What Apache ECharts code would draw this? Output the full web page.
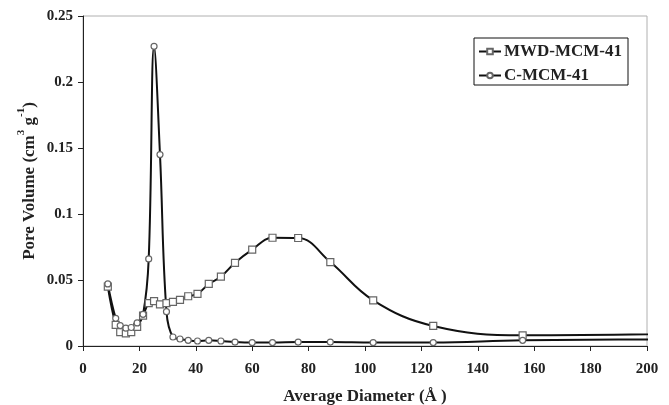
<!DOCTYPE html>
<html>
<head>
<meta charset="utf-8">
<script src="https://cdn.jsdelivr.net/npm/echarts@6/dist/echarts.min.js"></script>
<style>
html, body { margin: 0; padding: 0; background: #fff; }
#chart { width: 669px; height: 405px; }
</style>
</head>
<body>
<div id="chart"></div>
<script>
// pore diameter (Å), shared by both samples
var diameter = [8.8, 11.6, 13.2, 15.2, 17.1, 19.2, 21.3, 23.3, 25.2, 27.3, 29.6, 31.9, 34.4, 37.3, 40.6, 44.6, 48.9, 53.9, 60.0, 67.2, 76.3, 87.7, 102.9, 124.2, 155.9, 260];
var mwdVolume = [0.045, 0.016, 0.0105, 0.0095, 0.0105, 0.0145, 0.023, 0.0325, 0.034, 0.0315, 0.0325, 0.0335, 0.035, 0.0377, 0.0395, 0.047, 0.0525, 0.063, 0.073, 0.082, 0.0818, 0.0636, 0.0346, 0.0152, 0.0081, 0.0115];
var cVolume = [0.047, 0.021, 0.0155, 0.0135, 0.014, 0.0175, 0.024, 0.066, 0.227, 0.145, 0.026, 0.0068, 0.0053, 0.0043, 0.0038, 0.0043, 0.0038, 0.003, 0.0026, 0.0026, 0.003, 0.003, 0.0026, 0.0026, 0.0043, 0.0055];
var seriesNames = ['MWD-MCM-41', 'C-MCM-41'];

var serif = "'Liberation Serif', 'Times New Roman', serif";

function pairs(xs, ys) {
	var out = [];
	for (var i = 0; i < xs.length; i++) out.push([xs[i], ys[i]]);
	return out;
}

function makeSeries(name, ys, symbol, size) {
	return {
		name: name,
		type: 'line',
		data: pairs(diameter, ys),
		smooth: 0.4,
		symbol: symbol,
		symbolSize: size,
		showAllSymbol: true,
		clip: true,
		lineStyle: { color: '#111', width: 2 },
		itemStyle: { color: '#fff', borderColor: '#666', borderWidth: 1.2 },
		emphasis: { disabled: true }
	};
}

var chart = echarts.init(document.getElementById('chart'));
chart.setOption({
	animation: false,
	backgroundColor: '#fff',
	grid: {
		left: 83, right: 22, top: 16, bottom: 59,
		containLabel: false,
		outerBoundsMode: 'none',
		show: true, borderColor: '#b0b0b0', borderWidth: 1
	},
	legend: {
		data: [
			{ name: seriesNames[0] },
			{ name: seriesNames[1] }
		],
		orient: 'vertical',
		left: 474,
		top: 38,
		padding: [5, 6, 1, 4],
		itemWidth: 22,
		itemHeight: 7,
		itemGap: 7,
		borderColor: '#111',
		borderWidth: 1,
		backgroundColor: '#fff',
		textStyle: { fontFamily: serif, fontWeight: 'bold', fontSize: 17, color: '#222', padding: [0, 0, 0, -2] }
	},
	xAxis: {
		type: 'value',
		min: 0,
		max: 200,
		interval: 20,
		name: 'Average Diameter (Å )',
		nameLocation: 'middle',
		nameGap: 42,
		nameTextStyle: { fontFamily: serif, fontWeight: 'bold', fontSize: 17, color: '#222' },
		axisLine: { lineStyle: { color: '#222', width: 1 } },
		axisTick: { show: true, length: 5, lineStyle: { color: '#222' } },
		axisLabel: { margin: 16, fontFamily: serif, fontWeight: 'bold', fontSize: 15, color: '#222' },
		splitLine: { show: false }
	},
	yAxis: {
		type: 'value',
		min: 0,
		max: 0.25,
		interval: 0.05,
		name: '{n|Pore Volume (cm}{s|3}{n| g}{s|-1}{n|)}',
		nameLocation: 'middle',
		nameRotate: 90,
		nameGap: 45,
		nameMoveOverlap: false,
		nameTextStyle: {
			fontFamily: serif, fontWeight: 'bold', fontSize: 17, color: '#222',
			rich: {
				n: { fontFamily: serif, fontWeight: 'bold', fontSize: 17, color: '#222', lineHeight: 22, verticalAlign: 'bottom' },
				s: { fontFamily: serif, fontWeight: 'bold', fontSize: 11, color: '#222', lineHeight: 22, verticalAlign: 'top', padding: [0, 0, 8, 0] }
			}
		},
		axisLine: { show: true, lineStyle: { color: '#222', width: 1 } },
		axisTick: { show: true, length: 5, lineStyle: { color: '#222' } },
		axisLabel: { margin: 10, fontFamily: serif, fontWeight: 'bold', fontSize: 15, color: '#222' },
		splitLine: { show: false }
	},
	series: [
		makeSeries(seriesNames[0], mwdVolume, 'rect', 7),
		makeSeries(seriesNames[1], cVolume, 'circle', 6)
	]
});
</script>
</body>
</html>
